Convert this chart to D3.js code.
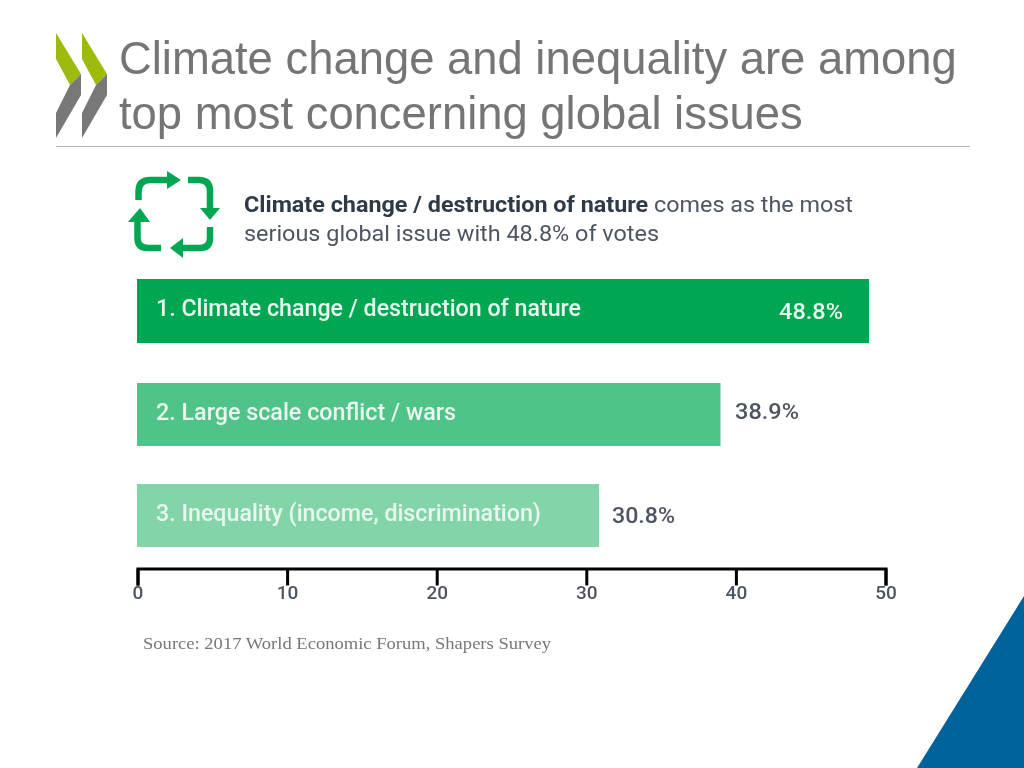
<!DOCTYPE html>
<html><head><meta charset="utf-8">
<script src="https://cdn.jsdelivr.net/npm/d3@7"></script>
<style>html,body{margin:0;padding:0;background:#fff;overflow:hidden}svg{display:block}text{font-family:Roboto,sans-serif}</style>
</head><body>
<svg id="c" width="1024" height="768"></svg>
<script>
const titleLines=["Climate change and inequality are among","top most concerning global issues"];
const categories=["1. Climate change / destruction of nature","2. Large scale conflict / wars","3. Inequality (income, discrimination)"];
const values=[48.8,38.9,30.8];
const barColors=["#00a651","#4fc388","#83d4a9"];
const ticks=[0,10,20,30,40,50];
const svg=d3.select("#c");
svg.append("defs").append("filter").attr("id","soft").append("feGaussianBlur").attr("stdDeviation",0.55);
const x=d3.scaleLinear().domain([0,50]).range([137,887]);
const xAxisScale=d3.scaleLinear().domain([0,50]).range([137.5,885.5]);
const y=d3.scaleOrdinal().domain(categories).range([279,383,484]);
const barH=d3.scaleOrdinal().domain(categories).range([64,63,63]);
const fmt=d=>d.toFixed(1)+"%";

// bars
svg.selectAll("rect.b").data(values).join("rect").attr("class","b")
 .attr("x",x(0)).attr("y",(d,i)=>y(categories[i])).attr("width",d=>x(d)-x(0)).attr("height",(d,i)=>barH(categories[i]))
 .attr("fill",(d,i)=>barColors[i]);

const soft=svg.append("g").attr("filter","url(#soft)");

// title
soft.selectAll("text.t").data(titleLines).join("text").attr("class","t")
 .attr("x",119).attr("y",(d,i)=>74+i*54.5)
 .style("font-family","'Liberation Sans',Arial,sans-serif").style("font-size","45.4px").attr("fill","#757575").text(d=>d);
svg.append("line").attr("x1",56).attr("x2",970).attr("y1",146.5).attr("y2",146.5).attr("stroke","#b4b4b4").attr("stroke-width",1);

// logo chevrons
[56,82].forEach(o=>{
 soft.append("path").attr("d",`M${o} 33L${o+25} 74L${o+14} 85L${o} 59Z`).attr("fill","#9cbb0c");
 soft.append("path").attr("d",`M${o+25} 74L${o+25} 95L${o} 138L${o} 113L${o+14} 85Z`).attr("fill","#787878");
});

// recycle icon
const icon=soft.append("g").attr("fill","none").attr("stroke","#00a651").attr("stroke-width",6.5);
icon.append("path").attr("d","M138.5 200V192Q138.5 180 150 180H170");
icon.append("path").attr("d","M188 180H199Q210 180 210 191V209");
icon.append("path").attr("d","M210 227V238Q210 248 200 248H182");
icon.append("path").attr("d","M161 248H148Q137.5 248 137.5 238V221");
const heads=soft.append("g").attr("fill","#00a651");
heads.append("path").attr("d","M167 171L181 180L167 189Z");
heads.append("path").attr("d","M200 208H220L210 220Z");
heads.append("path").attr("d","M183 238V258L170 248Z");
heads.append("path").attr("d","M128 222L140 208L150 222Z");

// intro text
const intro=soft.append("g").style("font-size","22px").attr("fill","#4d5560");
const i1=intro.append("text").attr("x",244).attr("y",212).attr("textLength",609).attr("lengthAdjust","spacingAndGlyphs");
i1.append("tspan").style("font-weight","700").attr("fill","#2f3a46").text("Climate change / destruction of nature");
i1.append("tspan").text(" comes as the most");
intro.append("text").attr("x",244).attr("y",241).attr("textLength",415).attr("lengthAdjust","spacingAndGlyphs").text("serious global issue with 48.8% of votes");

// bar labels
const catW=[425,300,385];
const catY=[316,420,521];
soft.selectAll("text.c").data(categories).join("text").attr("class","c")
 .attr("x",156).attr("y",(d,i)=>catY[i])
 .attr("textLength",(d,i)=>catW[i]).attr("lengthAdjust","spacingAndGlyphs")
 .style("font-size","23px").style("font-weight","500").attr("fill","#e8f7ef").text(d=>d);
const labX=[779,735,612], labY=[319,419,523], labW=[64,64,63];
soft.selectAll("text.v").data(values).join("text").attr("class","v")
 .attr("x",(d,i)=>labX[i]).attr("y",(d,i)=>labY[i])
 .attr("textLength",(d,i)=>labW[i]).attr("lengthAdjust","spacingAndGlyphs")
 .style("font-size","22px").style("font-weight","500")
 .attr("fill",(d,i)=>i===0?"#e8f7ef":"#4d5560").text(fmt);

// axis
const axis=d3.axisBottom(xAxisScale).tickValues(ticks).tickSizeInner(17).tickSizeOuter(17).tickPadding(0).tickFormat(d3.format("d"));
const ag=svg.append("g").attr("transform","translate(0,568.5)").call(axis);
ag.select(".domain").attr("stroke","#000").attr("stroke-width",3);
ag.selectAll(".tick line").attr("stroke","#000").attr("stroke-width",3);
ag.selectAll(".tick text").attr("y",17).attr("dy",".71em").attr("dx",0)
 .attr("filter","url(#soft)").style("font-family","Roboto,sans-serif").style("font-size","19px").style("font-weight","500").attr("fill","#4d5560");

// source
soft.append("text").attr("x",143).attr("y",649).style("font-family","'Liberation Serif',Georgia,serif")
 .style("font-size","17px").attr("fill","#777").attr("textLength",408).attr("lengthAdjust","spacingAndGlyphs").text("Source: 2017 World Economic Forum, Shapers Survey");

// corner triangle
svg.append("path").attr("d","M917 768L1024 596V768Z").attr("fill","#00629b");
</script>
</body></html>
